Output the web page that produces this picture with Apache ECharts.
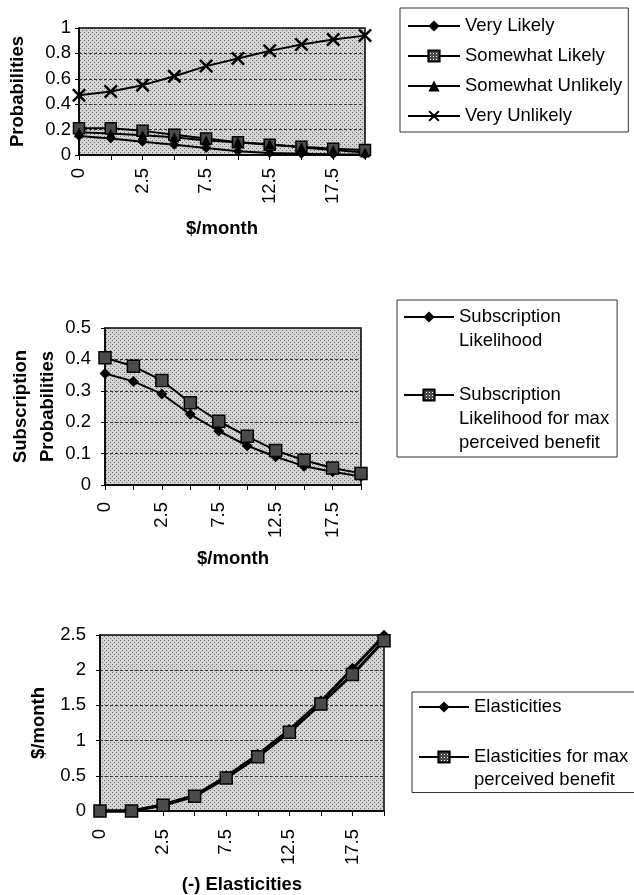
<!DOCTYPE html>
<html>
<head>
<meta charset="utf-8">
<script src="https://cdn.jsdelivr.net/npm/echarts@6/dist/echarts.min.js"></script>
<style>
html,body{margin:0;padding:0;background:#fff;}
#c{width:634px;height:895px;}
</style>
</head>
<body>
<div id="c"></div>
<script>
// ---- data ----
const priceCategories = ['0', '1', '2.5', '5', '7.5', '10', '12.5', '15', '17.5', '20'];

const veryLikely       = [0.15, 0.13, 0.105, 0.08, 0.055, 0.03, 0.015, 0.01, 0.005, 0.003];
const somewhatLikely   = [0.21, 0.21, 0.19, 0.16, 0.13, 0.10, 0.08, 0.065, 0.05, 0.04];
const somewhatUnlikely = [0.18, 0.17, 0.155, 0.14, 0.115, 0.10, 0.085, 0.06, 0.04, 0.02];
const veryUnlikely     = [0.47, 0.50, 0.55, 0.62, 0.70, 0.76, 0.82, 0.87, 0.91, 0.94];

const subscriptionLikelihood    = [0.355, 0.33, 0.29, 0.225, 0.172, 0.125, 0.09, 0.06, 0.042, 0.027];
const subscriptionLikelihoodMax = [0.405, 0.378, 0.333, 0.262, 0.203, 0.155, 0.11, 0.079, 0.054, 0.037];

const elasticities    = [0, 0, 0.09, 0.22, 0.49, 0.80, 1.15, 1.56, 2.02, 2.49];
const elasticitiesMax = [0, 0, 0.08, 0.21, 0.47, 0.77, 1.12, 1.52, 1.94, 2.42];

const probTicks  = [0, 0.2, 0.4, 0.6, 0.8, 1];
const subTicks   = [0, 0.1, 0.2, 0.3, 0.4, 0.5];
const elastTicks = [0, 0.5, 1, 1.5, 2, 2.5];

const names1 = ['Very Likely', 'Somewhat Likely', 'Somewhat Unlikely', 'Very Unlikely'];
const names2 = ['Subscription\nLikelihood', 'Subscription\nLikelihood for max\nperceived benefit'];
const names3 = ['Elasticities', 'Elasticities for max\nperceived benefit'];

// ---- styles ----
const FONT = '"Liberation Sans", Arial, sans-serif';
const FS = 18.5;

function makePattern(w, h, base, dot, pts) {
  const c = document.createElement('canvas');
  c.width = w; c.height = h;
  const ctx = c.getContext('2d');
  ctx.fillStyle = base; ctx.fillRect(0, 0, w, h);
  ctx.fillStyle = dot;
  pts.forEach(p => ctx.fillRect(p[0], p[1], 1, 1));
  return c;
}
const bgCanvas = makePattern(4, 4, '#d4d4d4', '#6a6a6a', [[0, 0], [2, 2]]);
const sqCanvas = makePattern(3, 3, '#4a4a4a', '#ffffff', [[1, 1]]);
const bgPattern = {image: bgCanvas, repeat: 'repeat'};
const sqPattern = {image: sqCanvas, repeat: 'repeat'};

const crossPath = 'path://M0,2.5 L2.5,0 L10,7.5 L17.5,0 L20,2.5 L12.5,10 L20,17.5 L17.5,20 L10,12.5 L2.5,20 L0,17.5 L7.5,10 Z';

function ticksRange(t) {
  return {min: t[0], max: t[t.length - 1], interval: t[1] - t[0]};
}

const grids = [
  {left: 79, top: 28, width: 286, height: 127},
  {left: 105, top: 328, width: 256, height: 157},
  {left: 100, top: 635, width: 284, height: 176}
].map(g => Object.assign(g, {
  show: true, backgroundColor: bgPattern, borderColor: '#000', borderWidth: 1.5,
  containLabel: false, outerBoundsMode: 'none'
}));

const xNames = ['$/month', '$/month', '(-) Elasticities'];
const xLabelMargins = [13, 17, 18];
const xAxes = [0, 1, 2].map(i => ({
  gridIndex: i, type: 'category', data: priceCategories, boundaryGap: false,
  axisLine: {show: true, lineStyle: {color: '#000', width: 1.5}},
  axisTick: {show: true, interval: 0, length: 5, lineStyle: {color: '#000', width: 1}},
  axisLabel: {interval: 1, rotate: 90, margin: xLabelMargins[i], fontSize: FS, color: '#000', fontFamily: FONT},
  splitLine: {show: false},
  name: xNames[i], nameLocation: 'middle', nameGap: 64,
  nameTextStyle: {fontWeight: 'bold', fontSize: FS, color: '#000', fontFamily: FONT}
}));

const yCfg = [
  {ticks: probTicks, name: 'Probabilities', gap: 50, margin: 8, lh: 22},
  {ticks: subTicks, name: 'Subscription\nProbabilities', gap: 44, margin: 14, lh: 27},
  {ticks: elastTicks, name: '$/month', gap: 50, margin: 14, lh: 22}
];
const yAxes = yCfg.map((c, i) => Object.assign({
  gridIndex: i, type: 'value',
  axisLine: {show: true, lineStyle: {color: '#000', width: 1.5}},
  axisTick: {show: true, length: 4, lineStyle: {color: '#000', width: 1}},
  axisLabel: {margin: c.margin, fontSize: FS, color: '#000', fontFamily: FONT},
  splitLine: {show: true, lineStyle: {color: '#333', width: 1, type: [3, 2]}},
  name: c.name, nameLocation: 'middle', nameGap: c.gap,
  nameTextStyle: {fontWeight: 'bold', fontSize: FS, color: '#000', fontFamily: FONT, lineHeight: c.lh}
}, ticksRange(c.ticks)));

function lineSeries(name, data, idx, symbol, size, fill, width) {
  return {
    name: name, type: 'line', data: data, xAxisIndex: idx, yAxisIndex: idx,
    symbol: symbol, symbolSize: size, symbolKeepAspect: true, showAllSymbol: true,
    lineStyle: {color: '#000', width: width},
    itemStyle: {color: fill, borderColor: '#000', borderWidth: fill === '#000' ? 0 : 1.5},
    emphasis: {disabled: true}, clip: false
  };
}

const series = [
  lineSeries(names1[0], veryLikely, 0, 'diamond', 10, '#000', 2),
  lineSeries(names1[1], somewhatLikely, 0, 'rect', 11, sqPattern, 2),
  lineSeries(names1[2], somewhatUnlikely, 0, 'triangle', 10, '#000', 2),
  lineSeries(names1[3], veryUnlikely, 0, crossPath, 14, '#000', 2),
  lineSeries(names2[0], subscriptionLikelihood, 1, 'diamond', 11, '#000', 2),
  lineSeries(names2[1], subscriptionLikelihoodMax, 1, 'rect', 12, sqPattern, 2),
  lineSeries(names3[0], elasticities, 2, 'diamond', 12, '#000', 3),
  lineSeries(names3[1], elasticitiesMax, 2, 'rect', 12, sqPattern, 3)
];

// first text line of each legend entry sits level with its icon
function topAlign(name) {
  const n = name.split('\n').length;
  return '\n'.repeat(n - 1) + name;
}

const legendBase = {
  orient: 'vertical', selectedMode: false, itemHeight: 14,
  borderColor: '#333', borderWidth: 1, backgroundColor: '#fff',
  formatter: topAlign
};

const legends = [
  Object.assign({}, legendBase, {
    left: 400, top: 8, itemWidth: 52, itemGap: 6, padding: [6, 6, 4, 7],
    textStyle: {fontSize: FS, color: '#000', fontFamily: FONT, lineHeight: 24},
    data: names1
  }),
  Object.assign({}, legendBase, {
    left: 397, top: 300, itemWidth: 50, itemGap: -18, padding: [-19, 8, 2, 6],
    textStyle: {fontSize: FS, color: '#000', fontFamily: FONT, lineHeight: 24},
    data: names2
  }),
  Object.assign({}, legendBase, {
    left: 412, top: 692, itemWidth: 50, itemGap: 4, padding: [3.5, 10, 1, 6],
    textStyle: {fontSize: FS, color: '#000', fontFamily: FONT, lineHeight: 23},
    data: names3
  })
];

const chart = echarts.init(document.getElementById('c'), null, {renderer: 'canvas'});
chart.setOption({
  animation: false,
  backgroundColor: '#fff',
  textStyle: {fontFamily: FONT},
  grid: grids,
  xAxis: xAxes,
  yAxis: yAxes,
  legend: legends,
  series: series
});
</script>
</body>
</html>
